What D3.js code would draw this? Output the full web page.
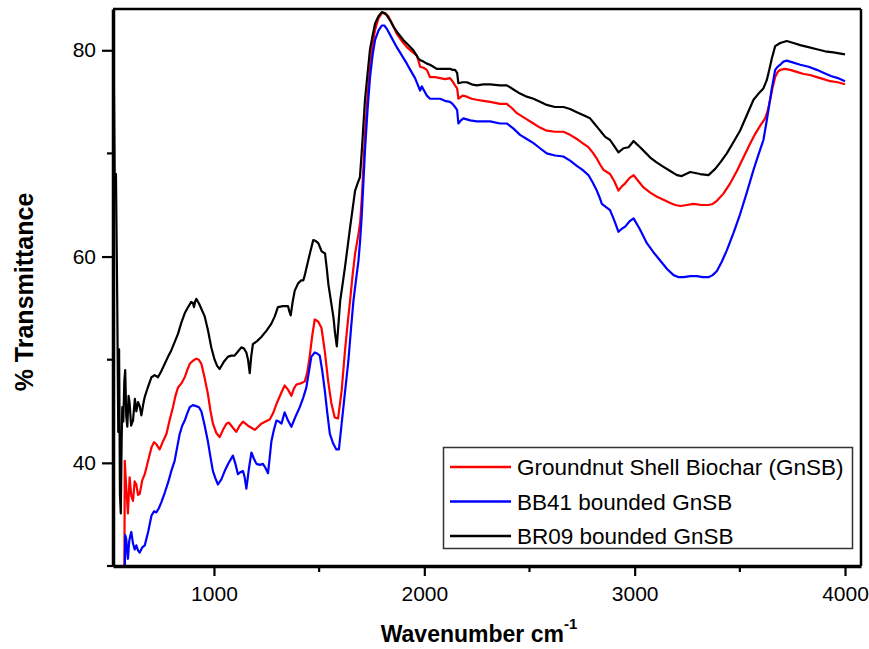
<!DOCTYPE html>
<html>
<head>
<meta charset="utf-8">
<script src="https://cdn.jsdelivr.net/npm/d3@7"></script>
<style>
  body { margin: 0; background: #fff; }
  svg { display: block; font-family: Arial, "Liberation Sans", sans-serif; }
</style>
</head>
<body>
<svg id="chart" width="869" height="649"></svg>
<script>
// FTIR spectra: [wavenumber, %T]
const gnsb = [
  [521, 80], [523, 29], [574, 29], [576, 40.2], [583, 37.6], [591, 35.1], [599, 38.6], [607, 36.8],
  [615, 36.3], [623, 38.2], [631, 37.9], [639, 36.9], [647, 37.0], [659, 38.3], [671, 38.9],
  [687, 40.2], [703, 41.5], [715, 42.0], [726, 41.8], [742, 41.3], [758, 42.1], [774, 42.8],
  [790, 44.2], [805, 45.4], [817, 46.5], [829, 47.3], [845, 47.7], [861, 48.3], [873, 49.0],
  [885, 49.6], [900, 49.9], [916, 50.1], [928, 50.0], [940, 49.6], [955, 48.3], [971, 46.7],
  [983, 45.1], [995, 43.8], [1011, 42.9], [1027, 42.5], [1043, 43.2], [1059, 43.8], [1071, 43.9],
  [1083, 43.6], [1094, 43.3], [1106, 43.0], [1122, 43.6], [1138, 44.0], [1150, 43.8], [1162, 43.6],
  [1178, 43.4], [1194, 43.2], [1210, 43.5], [1225, 43.8], [1245, 44.0], [1265, 44.2], [1281, 44.8],
  [1297, 45.7], [1316, 46.6], [1336, 47.5], [1352, 47.1], [1368, 46.5], [1380, 47.2], [1392, 47.6],
  [1412, 47.7], [1432, 47.9], [1444, 48.8], [1455, 50.3], [1467, 52.3], [1479, 53.9], [1495, 53.7],
  [1511, 53.1], [1527, 50.8], [1543, 47.9], [1558, 45.8], [1574, 44.4], [1590, 44.3], [1607, 47.0],
  [1623, 50.9], [1635, 53.4], [1647, 55.7], [1659, 58.2], [1671, 60.3], [1687, 62.2], [1695, 63.3],
  [1702, 65.4], [1710, 68.5], [1718, 71.9], [1730, 75.5], [1742, 78.4], [1754, 80.5], [1766, 82.0],
  [1782, 83.1], [1798, 83.6], [1814, 83.6], [1829, 83.3], [1849, 82.5], [1869, 81.6], [1893, 80.9],
  [1917, 80.3], [1940, 79.9], [1964, 79.5], [1972, 79.0], [1980, 78.4], [1996, 78.3], [2012, 78.1],
  [2027, 77.4], [2051, 77.4], [2075, 77.3], [2098, 77.2], [2122, 77.3], [2134, 77.0], [2146, 76.6],
  [2156, 76.3], [2162, 75.3], [2182, 75.6], [2202, 75.5], [2225, 75.3], [2249, 75.2], [2281, 75.1],
  [2313, 75.0], [2360, 74.8], [2392, 74.8], [2416, 74.4], [2440, 73.9], [2480, 73.4], [2519, 72.9],
  [2550, 72.5], [2582, 72.2], [2621, 72.1], [2661, 72.1], [2693, 71.8], [2725, 71.4], [2752, 71.0],
  [2780, 70.6], [2800, 70.1], [2820, 69.5], [2836, 68.9], [2852, 68.4], [2868, 68.2], [2883, 68.0],
  [2903, 67.3], [2923, 66.4], [2939, 66.8], [2955, 67.1], [2975, 67.6], [2995, 67.9], [3018, 67.3],
  [3042, 66.7], [3074, 66.2], [3106, 65.8], [3137, 65.5], [3169, 65.2], [3193, 65.0], [3217, 64.9],
  [3248, 65.0], [3280, 65.1], [3316, 65.0], [3351, 65.0], [3371, 65.1], [3391, 65.4], [3422, 66.1],
  [3454, 67.1], [3486, 68.3], [3517, 69.6], [3545, 70.8], [3573, 71.9], [3597, 72.7], [3620, 73.4],
  [3632, 74.1], [3644, 75.2], [3656, 76.4], [3668, 77.4], [3680, 77.9], [3692, 78.1], [3715, 78.2],
  [3739, 78.1], [3771, 77.9], [3803, 77.7], [3834, 77.6], [3866, 77.4], [3898, 77.2], [3930, 77.0],
  [3965, 76.9], [4000, 76.7]
];

const bb41 = [
  [521, 40], [523, 29], [576, 29], [578, 33.0], [583, 32.6], [587, 31.5], [591, 30.7], [597, 32.4],
  [603, 33.0], [607, 33.3], [615, 32.2], [623, 31.6], [631, 32.0], [639, 31.5], [647, 31.3],
  [659, 31.8], [671, 32.0], [687, 33.3], [703, 34.9], [715, 35.3], [726, 35.2], [738, 35.6],
  [750, 36.2], [766, 37.1], [782, 38.1], [797, 39.2], [813, 40.2], [825, 41.5], [837, 42.8],
  [849, 43.6], [861, 44.1], [873, 44.8], [885, 45.4], [900, 45.6], [916, 45.5], [928, 45.4],
  [940, 45.0], [955, 43.7], [971, 42.1], [983, 40.6], [995, 39.2], [1007, 38.5], [1019, 37.9],
  [1035, 38.4], [1051, 39.2], [1070, 40.0], [1090, 40.7], [1102, 39.9], [1114, 38.9], [1126, 39.1],
  [1138, 39.2], [1146, 38.6], [1154, 37.5], [1166, 39.4], [1178, 41.0], [1190, 40.4], [1202, 39.9],
  [1218, 39.8], [1233, 39.9], [1245, 39.5], [1257, 39.0], [1265, 40.5], [1273, 42.1], [1285, 43.2],
  [1297, 44.1], [1309, 44.0], [1321, 43.8], [1336, 44.9], [1352, 44.1], [1368, 43.5], [1388, 44.5],
  [1408, 45.4], [1424, 46.3], [1439, 47.3], [1451, 48.8], [1463, 50.3], [1479, 50.7], [1491, 50.6],
  [1503, 50.4], [1515, 48.9], [1527, 47.0], [1539, 44.8], [1551, 42.8], [1566, 41.9], [1582, 41.3],
  [1594, 41.3], [1606, 43.6], [1620, 46.3], [1639, 49.9], [1651, 52.9], [1663, 55.7], [1675, 57.7],
  [1687, 59.6], [1695, 61.6], [1702, 63.8], [1710, 67.0], [1718, 70.3], [1730, 74.2], [1742, 77.4],
  [1754, 79.5], [1766, 81.0], [1782, 81.9], [1798, 82.4], [1810, 82.4], [1821, 82.1], [1845, 81.2],
  [1869, 80.3], [1893, 79.5], [1917, 78.7], [1936, 78.0], [1956, 77.3], [1968, 76.7], [1980, 76.1],
  [1988, 76.5], [1996, 76.2], [2012, 75.6], [2027, 75.3], [2051, 75.3], [2075, 75.3], [2098, 75.1],
  [2122, 75.0], [2134, 74.8], [2146, 74.5], [2156, 74.2], [2162, 72.9], [2174, 73.2], [2186, 73.4],
  [2218, 73.2], [2249, 73.1], [2281, 73.1], [2313, 73.1], [2360, 72.9], [2392, 72.9], [2424, 72.4],
  [2455, 71.8], [2487, 71.4], [2519, 71.0], [2550, 70.5], [2582, 70.0], [2621, 69.8], [2661, 69.7],
  [2693, 69.3], [2725, 68.8], [2752, 68.4], [2780, 67.9], [2800, 67.2], [2820, 66.4], [2832, 65.8],
  [2844, 65.1], [2864, 64.8], [2883, 64.5], [2903, 63.5], [2923, 62.4], [2939, 62.7], [2955, 62.9],
  [2975, 63.4], [2995, 63.7], [3026, 62.6], [3058, 61.3], [3090, 60.4], [3122, 59.6], [3154, 58.8],
  [3185, 58.2], [3209, 58.0], [3233, 58.0], [3264, 58.1], [3296, 58.1], [3324, 58.0], [3351, 58.0],
  [3371, 58.2], [3391, 58.6], [3414, 59.5], [3438, 60.6], [3470, 62.3], [3501, 64.1], [3533, 66.2],
  [3565, 68.4], [3589, 69.9], [3612, 71.3], [3624, 72.7], [3636, 74.2], [3652, 76.3], [3668, 78.1],
  [3680, 78.4], [3692, 78.6], [3707, 78.9], [3723, 79.0], [3755, 78.8], [3787, 78.6], [3827, 78.4],
  [3866, 78.1], [3900, 77.8], [3933, 77.5], [3966, 77.3], [4000, 77.0]
];

const br09 = [
  [521, 84.5], [528, 67.5], [534, 68], [540, 56], [545, 43], [549, 51], [553, 37], [557, 35.1],
  [561, 42], [564, 45.4], [569, 44], [574, 48], [578, 49.0], [583, 44.5], [588, 43.5], [594, 46.5],
  [599, 45.8], [606, 43.6], [615, 44.1], [624, 46.2], [631, 45.0], [639, 45.9], [647, 45.5],
  [655, 44.6], [663, 45.6], [671, 46.4], [687, 47.4], [703, 48.3], [718, 48.5], [734, 48.3],
  [750, 48.9], [766, 49.6], [782, 50.3], [797, 50.9], [813, 51.7], [829, 52.5], [845, 53.6],
  [861, 54.5], [877, 55.1], [892, 55.6], [900, 55.5], [905, 55.1], [910, 55.6], [916, 55.9],
  [930, 55.4], [943, 54.8], [956, 54.2], [972, 52.8], [987, 51.2], [1003, 50.0], [1015, 49.4],
  [1027, 49.1], [1047, 49.8], [1067, 50.3], [1083, 50.4], [1098, 50.4], [1114, 50.8], [1130, 51.2],
  [1142, 51.1], [1154, 50.7], [1162, 50.0], [1170, 48.7], [1177, 50.3], [1185, 51.5], [1205, 51.8],
  [1225, 52.2], [1249, 52.8], [1273, 53.5], [1289, 54.2], [1304, 55.1], [1328, 55.2], [1352, 55.2],
  [1358, 54.7], [1365, 54.3], [1374, 55.6], [1384, 56.7], [1400, 57.4], [1415, 57.7], [1425, 57.7],
  [1433, 58.3], [1441, 59.0], [1456, 60.3], [1472, 61.6], [1484, 61.5], [1496, 61.3], [1504, 60.9],
  [1512, 60.5], [1528, 60.3], [1536, 58.9], [1544, 57.3], [1556, 55.7], [1568, 54.1], [1576, 52.5],
  [1584, 51.3], [1592, 53.5], [1600, 55.7], [1612, 57.4], [1623, 59.0], [1635, 60.9], [1647, 62.8],
  [1659, 64.6], [1671, 66.4], [1683, 67.1], [1694, 67.7], [1702, 70.0], [1710, 72.6], [1718, 75.2],
  [1730, 77.7], [1742, 80.1], [1754, 81.4], [1766, 82.6], [1782, 83.3], [1798, 83.7], [1810, 83.6],
  [1821, 83.4], [1837, 82.9], [1853, 82.3], [1877, 81.6], [1900, 81.0], [1924, 80.5], [1948, 80.0],
  [1960, 79.6], [1972, 79.2], [1984, 79.0], [1996, 78.9], [2012, 78.7], [2027, 78.6], [2043, 78.4],
  [2059, 78.2], [2090, 78.2], [2122, 78.2], [2134, 78.1], [2146, 78.1], [2156, 77.8], [2162, 76.8],
  [2182, 76.9], [2202, 76.9], [2225, 76.7], [2249, 76.6], [2281, 76.7], [2313, 76.7], [2360, 76.6],
  [2392, 76.6], [2424, 76.2], [2455, 75.8], [2487, 75.5], [2519, 75.3], [2550, 75.0], [2582, 74.7],
  [2621, 74.5], [2661, 74.5], [2693, 74.3], [2725, 74.0], [2757, 73.7], [2788, 73.4], [2808, 72.9],
  [2828, 72.4], [2844, 72.0], [2860, 71.6], [2883, 71.3], [2903, 70.7], [2923, 70.1], [2947, 70.5],
  [2971, 70.6], [2995, 71.2], [3010, 70.9], [3026, 70.6], [3050, 70.1], [3074, 69.6], [3106, 69.1],
  [3137, 68.7], [3169, 68.3], [3201, 67.9], [3224, 67.8], [3244, 68.0], [3264, 68.2], [3288, 68.1],
  [3311, 68.0], [3351, 67.9], [3383, 68.5], [3410, 69.2], [3438, 70.0], [3470, 71.1], [3501, 72.2],
  [3533, 73.7], [3565, 75.2], [3589, 75.8], [3612, 76.3], [3628, 77.1], [3640, 78.1], [3652, 79.2],
  [3668, 80.4], [3692, 80.7], [3723, 80.9], [3755, 80.7], [3787, 80.5], [3826, 80.3], [3866, 80.1],
  [3905, 79.9], [3945, 79.8], [3972, 79.7], [4000, 79.6]
];

const seriesNames = ["Groundnut Shell Biochar (GnSB)", "BB41 bounded GnSB", "BR09 bounded GnSB"];
const seriesColors = ["#ff0000", "#0000ff", "#000000"];
const xTicks = [1000, 2000, 3000, 4000];
const xMinor = [1500, 2500, 3500];
const yTicks = [40, 60, 80];
const yMinor = [30, 50, 70];

const svg = d3.select("#chart");
const plotL = 113, plotR = 861, plotT = 9, plotB = 566;

const x = d3.scaleLinear().domain([520, 4076]).range([plotL, plotR]);
const y = d3.scaleLinear().domain([30, 84]).range([plotB, plotT]);

svg.append("defs").append("clipPath").attr("id", "plotClip")
  .append("rect").attr("x", plotL).attr("y", plotT)
  .attr("width", plotR - plotL).attr("height", plotB - plotT);

// spectra
const line = d3.line().x(d => x(d[0])).y(d => y(d[1]));
const plot = svg.append("g").attr("clip-path", "url(#plotClip)");
[gnsb, bb41, br09].forEach((s, i) => {
  plot.append("path").datum(s)
    .attr("d", line)
    .attr("fill", "none")
    .attr("stroke", seriesColors[i])
    .attr("stroke-width", 2.2)
    .attr("stroke-linejoin", "round");
});

// frame
svg.append("line").attr("x1", plotL).attr("x2", plotR).attr("y1", plotT).attr("y2", plotT)
  .attr("stroke", "#000").attr("stroke-width", 2.5);
svg.append("line").attr("x1", plotR).attr("x2", plotR).attr("y1", plotT).attr("y2", plotB)
  .attr("stroke", "#000").attr("stroke-width", 2.5);

// bottom axis
const xAxis = svg.append("g").attr("transform", `translate(0,${plotB})`)
  .call(d3.axisBottom(x).tickValues(xTicks).tickSize(10).tickSizeOuter(0).tickFormat(d3.format("d")));
xAxis.selectAll(".tick line").attr("stroke-width", 2.2);
xAxis.selectAll(".tick text").attr("font-size", 21).attr("dy", "1.05em").attr("fill", "#000");
xAxis.select(".domain").attr("stroke-width", 3.5);
svg.append("g").selectAll("line").data(xMinor).join("line")
  .attr("x1", d => x(d)).attr("x2", d => x(d))
  .attr("y1", plotB).attr("y2", plotB + 6)
  .attr("stroke", "#000").attr("stroke-width", 2.2);

// left axis
const yAxis = svg.append("g").attr("transform", `translate(${plotL},0)`)
  .call(d3.axisLeft(y).tickValues(yTicks).tickSize(11).tickSizeOuter(0).tickPadding(6));
yAxis.selectAll(".tick line").attr("stroke-width", 2.2);
yAxis.selectAll(".tick text").attr("font-size", 21).attr("fill", "#000");
yAxis.select(".domain").attr("stroke-width", 3.5);
svg.append("g").selectAll("line").data(yMinor).join("line")
  .attr("x1", plotL - 6).attr("x2", plotL)
  .attr("y1", d => y(d)).attr("y2", d => y(d))
  .attr("stroke", "#000").attr("stroke-width", 2.2);

// axis titles
const xt = svg.append("text")
  .attr("x", (plotL + plotR) / 2 - 8).attr("y", 642)
  .attr("text-anchor", "middle")
  .attr("font-size", 23).attr("font-weight", "bold");
xt.append("tspan").text("Wavenumber cm");
xt.append("tspan").attr("dy", -13).attr("font-size", 15).text("-1");

svg.append("text")
  .attr("transform", `translate(33,292) rotate(-90)`)
  .attr("text-anchor", "middle")
  .attr("font-size", 25).attr("font-weight", "bold")
  .text("% Transmittance");

// legend
const lg = svg.append("g");
lg.append("rect").attr("x", 443.5).attr("y", 447.5).attr("width", 409).attr("height", 101)
  .attr("fill", "#fff").attr("stroke", "#333").attr("stroke-width", 1.5);
seriesNames.forEach((name, i) => {
  const cy = 467 + i * 34.5;
  lg.append("line").attr("x1", 450).attr("x2", 511).attr("y1", cy).attr("y2", cy)
    .attr("stroke", seriesColors[i]).attr("stroke-width", 2.5);
  lg.append("text").attr("x", 517).attr("y", cy).attr("dy", "0.36em")
    .attr("font-size", 22.5).text(name);
});
</script>
</body>
</html>
